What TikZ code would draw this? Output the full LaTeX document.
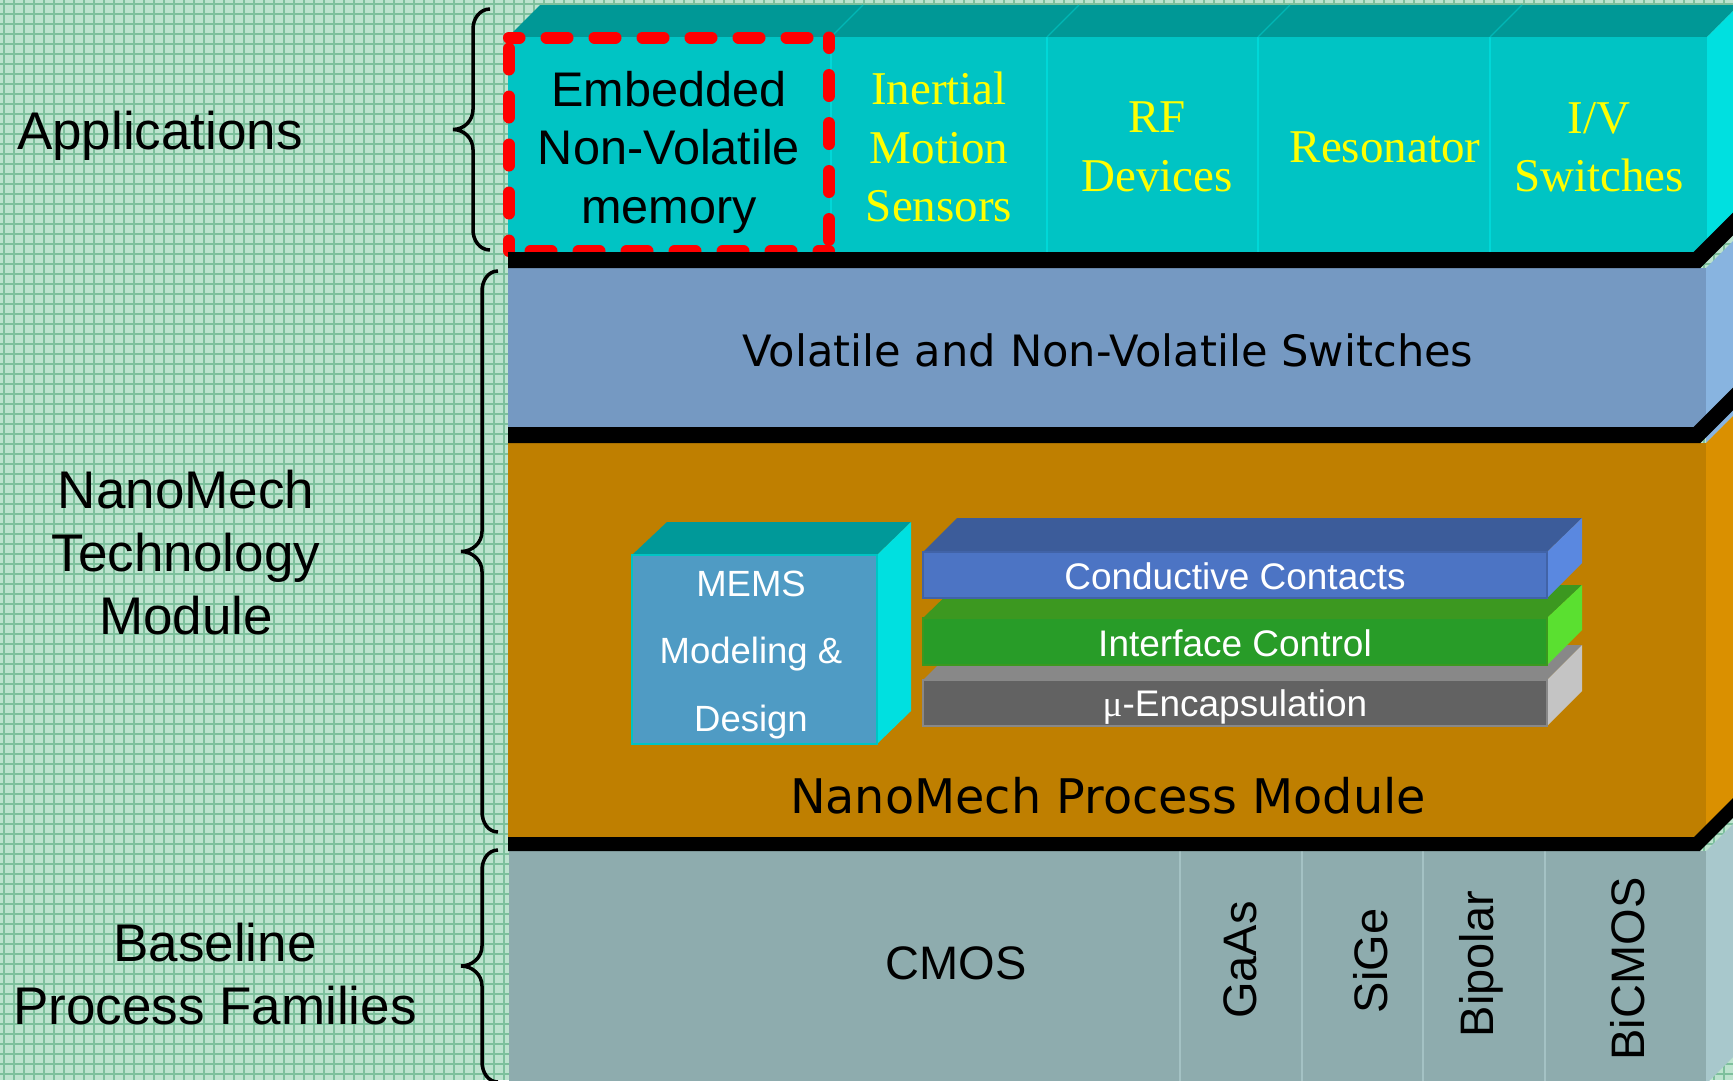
\documentclass[tikz,border=0pt]{standalone}
\usepackage{fontspec}
\setmainfont{Liberation Sans}
\newfontfamily\arialf{Liberation Sans}
\newfontfamily\timesf{Liberation Serif}
\newfontfamily\verdf{DejaVu Sans}
\definecolor{bgc}{HTML}{BCE3CE}
\definecolor{gridc}{HTML}{7DC09C}
\definecolor{cyfront}{HTML}{00C4C4}
\definecolor{cytop}{HTML}{009896}
\definecolor{cyside}{HTML}{00E0E0}
\definecolor{cydiv}{HTML}{00D8D8}
\definecolor{appyellow}{HTML}{FFFF00}
\definecolor{blfront}{HTML}{7599C2}
\definecolor{blside}{HTML}{88B4E0}
\definecolor{orfront}{HTML}{BF7F00}
\definecolor{orside}{HTML}{DA9000}
\definecolor{bsfront}{HTML}{8EACAE}
\definecolor{bsside}{HTML}{A8C8CC}
\definecolor{bsdiv}{HTML}{A4C2C4}
\definecolor{memsfront}{HTML}{4F9BC4}
\definecolor{memstop}{HTML}{009999}
\definecolor{memsside}{HTML}{00E0E0}
\definecolor{ccfront}{HTML}{4C74C4}
\definecolor{cctop}{HTML}{3C5C9A}
\definecolor{ccside}{HTML}{5A88E0}
\definecolor{icfront}{HTML}{289C28}
\definecolor{ictop}{HTML}{3C9820}
\definecolor{icside}{HTML}{5AE030}
\definecolor{encfront}{HTML}{626262}
\definecolor{enctop}{HTML}{888888}
\definecolor{encside}{HTML}{C4C4C4}
\newcommand{\mybrace}[5]{%
  \draw[bracestyle] (#1,#4) to[out=180,in=90] (#2,#4+20) -- (#2,{(#4+#5)/2-20})
    to[out=-90,in=0] (#3,{(#4+#5)/2}) to[out=0,in=90] (#2,{(#4+#5)/2+20})
    -- (#2,#5-20) to[out=-90,in=180] (#1,#5);}
\begin{document}
\begin{tikzpicture}[x=1pt,y=-1pt,
  bracestyle/.style={line width=3.5, black},
  band/.style={line width=16, black},
  lbl/.style={font=\arialf\fontsize{53}{63}\selectfont, align=center, inner sep=0},
  embtxt/.style={font=\arialf\fontsize{48.6}{58.5}\selectfont, align=center, inner sep=0},
  celltxt/.style={font=\timesf\fontsize{47}{58.5}\selectfont, text=appyellow, align=center, inner sep=0},
  layertxt/.style={font=\verdf\fontsize{43.2}{50}\selectfont, inner sep=0},
  proctxt/.style={font=\verdf\fontsize{47.7}{55}\selectfont, inner sep=0},
  memstxt/.style={font=\arialf\fontsize{36.5}{67.5}\selectfont, text=white, align=center, inner sep=0},
  striptxt/.style={font=\arialf\fontsize{37}{44}\selectfont, text=white, inner sep=0},
  basetxt/.style={font=\arialf\fontsize{47}{55}\selectfont, inner sep=0},
  reddash/.style={red, line width=12, line cap=round, dash pattern=on 21 off 27, dash phase=10.5}
]
\useasboundingbox (0,0) rectangle (1733,1080);
\clip (0,0) rectangle (1733,1080);
% background grid
\fill[bgc] (0,0) rectangle (1733,1080);
\foreach \i in {0,10,...,1730} \draw[gridc, line width=1.3] (\i+4,0) -- (\i+4,1080);
\foreach \j in {0,10,...,1080} \draw[gridc, line width=1.3] (0,\j+4) -- (1733,\j+4);

% ---------- Applications layer ----------
\fill[cytop] (508,37) -- (540,5) -- (1739,5) -- (1707,37) -- cycle;
\fill[cyside] (1707,37) -- (1740,4) -- (1745,4) -- (1745,214) -- (1707,252) -- cycle;
\fill[cyfront] (508,37) rectangle (1707,252);
\foreach \x in {831,1047,1258,1490} {
  \draw[cydiv, line width=2] (\x,37) -- (\x,252);
  \draw[cyfront!70!cytop, line width=1.2] (\x,37) -- (\x+32,5);
}
\node[embtxt] (emb) at (669,152) {Embedded\\Non-Volatile\\memory};
\node[celltxt] (ims) at (939,147) {Inertial\\Motion\\Sensors};
\node[celltxt] (rf) at (1157,147) {RF\\Devices};
\node[celltxt] (res) at (1385,147) {Resonator};
\node[celltxt] (ivs) at (1599,147) {I/V\\Switches};
% red dashed frame
\coordinate (d1) at (509,37.5);
\coordinate (d2) at (829,37.5);
\coordinate (d3) at (829,251);
\coordinate (d4) at (509,251);
\draw[reddash] (d1) -- (d2);
\draw[reddash] (d2) -- (d3);
\draw[reddash] (d3) -- (d4);
\draw[reddash] (d4) -- (d1);

% ---------- Switches layer ----------
\fill[blside] (1706,268) -- (1745,229) -- (1745,404) -- (1706,443) -- cycle;
\fill[blfront] (508,268) rectangle (1706,427);
\node[layertxt] (vnv) at (1108,350) {Volatile and Non-Volatile Switches};

% ---------- Process module layer ----------
\fill[orside] (1706,443) -- (1745,404) -- (1745,798) -- (1706,837) -- cycle;
\fill[orfront] (508,443) rectangle (1706,837);
% MEMS box
\fill[memstop] (632,555) -- (667,522) -- (911,522) -- (877,555) -- cycle;
\fill[memsside] (877,555) -- (911,522) -- (911,711) -- (877,744) -- cycle;
\fill[memsfront] (632,555) rectangle (877,744);
\draw[cyfront, line width=1.5] (632,555) rectangle (877,744);
\node[memstxt] (mems) at (751,655) {MEMS\\Modeling \&\\Design};
% stacked strips (bottom first)
\fill[enctop] (923,680) -- (958,645) -- (1582,645) -- (1547,680) -- cycle;
\fill[encside] (1547,680) -- (1582,645) -- (1582,691) -- (1547,726) -- cycle;
\fill[encfront] (923,680) rectangle (1547,726);
\draw[enctop, line width=1.5] (923,680) rectangle (1547,726);
\fill[ictop] (923,618) -- (957,585) -- (1582,585) -- (1547,618) -- cycle;
\fill[icside] (1547,618) -- (1582,585) -- (1582,630) -- (1547,665) -- cycle;
\fill[icfront] (923,618) rectangle (1547,665);
\draw[ictop, line width=1.5] (923,618) rectangle (1547,665);
\fill[cctop] (923,552) -- (957,518) -- (1582,518) -- (1547,552) -- cycle;
\fill[ccside] (1547,552) -- (1582,518) -- (1582,563) -- (1547,598) -- cycle;
\fill[ccfront] (923,552) rectangle (1547,598);
\draw[ccfront!85!black, line width=1.5] (923,552) rectangle (1547,598);
\node[striptxt] (cc) at (1235,576) {Conductive Contacts};
\node[striptxt] (ic) at (1235,643) {Interface Control};
\node[striptxt] (enc) at (1235,707) {{\timesf μ}-Encapsulation};
\node[proctxt] (npm) at (1108,796) {NanoMech Process Module};

% ---------- Baseline layer ----------
\fill[bsside] (1706,851) -- (1745,812) -- (1745,1045) -- (1706,1084) -- cycle;
\fill[bsfront] (509,851) rectangle (1706,1090);
\foreach \x in {1180,1302,1423,1545} \draw[bsdiv, line width=2] (\x,851) -- (\x,1090);
\node[basetxt] (cmos) at (956,963) {CMOS};
\node[basetxt, rotate=90] (gaas) at (1240,960) {GaAs};
\node[basetxt, rotate=90] (sige) at (1371,961) {SiGe};
\node[basetxt, rotate=90] (bip) at (1481,964) {Bipolar};
\node[basetxt, rotate=90] (bic) at (1628,969) {BiCMOS};

% ---------- black bands ----------
\draw[band] (508,260) -- (1697,260) -- (1760,197);
\draw[band] (508,435) -- (1697,435) -- (1760,372);
\draw[band, line width=14] (508,844) -- (1697,844) -- (1760,781);

% ---------- braces and labels ----------
\mybrace{490}{473}{453}{9}{250}
\mybrace{498}{482}{461}{271}{832}
\mybrace{498}{482}{461}{850}{1082}
\node[lbl] (app) at (160,136) {Applications};
\node[lbl] (ntm) at (186,553) {NanoMech\\Technology\\Module};
\node[lbl] (bpf) at (215,974) {Baseline\\Process Families};
\end{tikzpicture}
\end{document}
